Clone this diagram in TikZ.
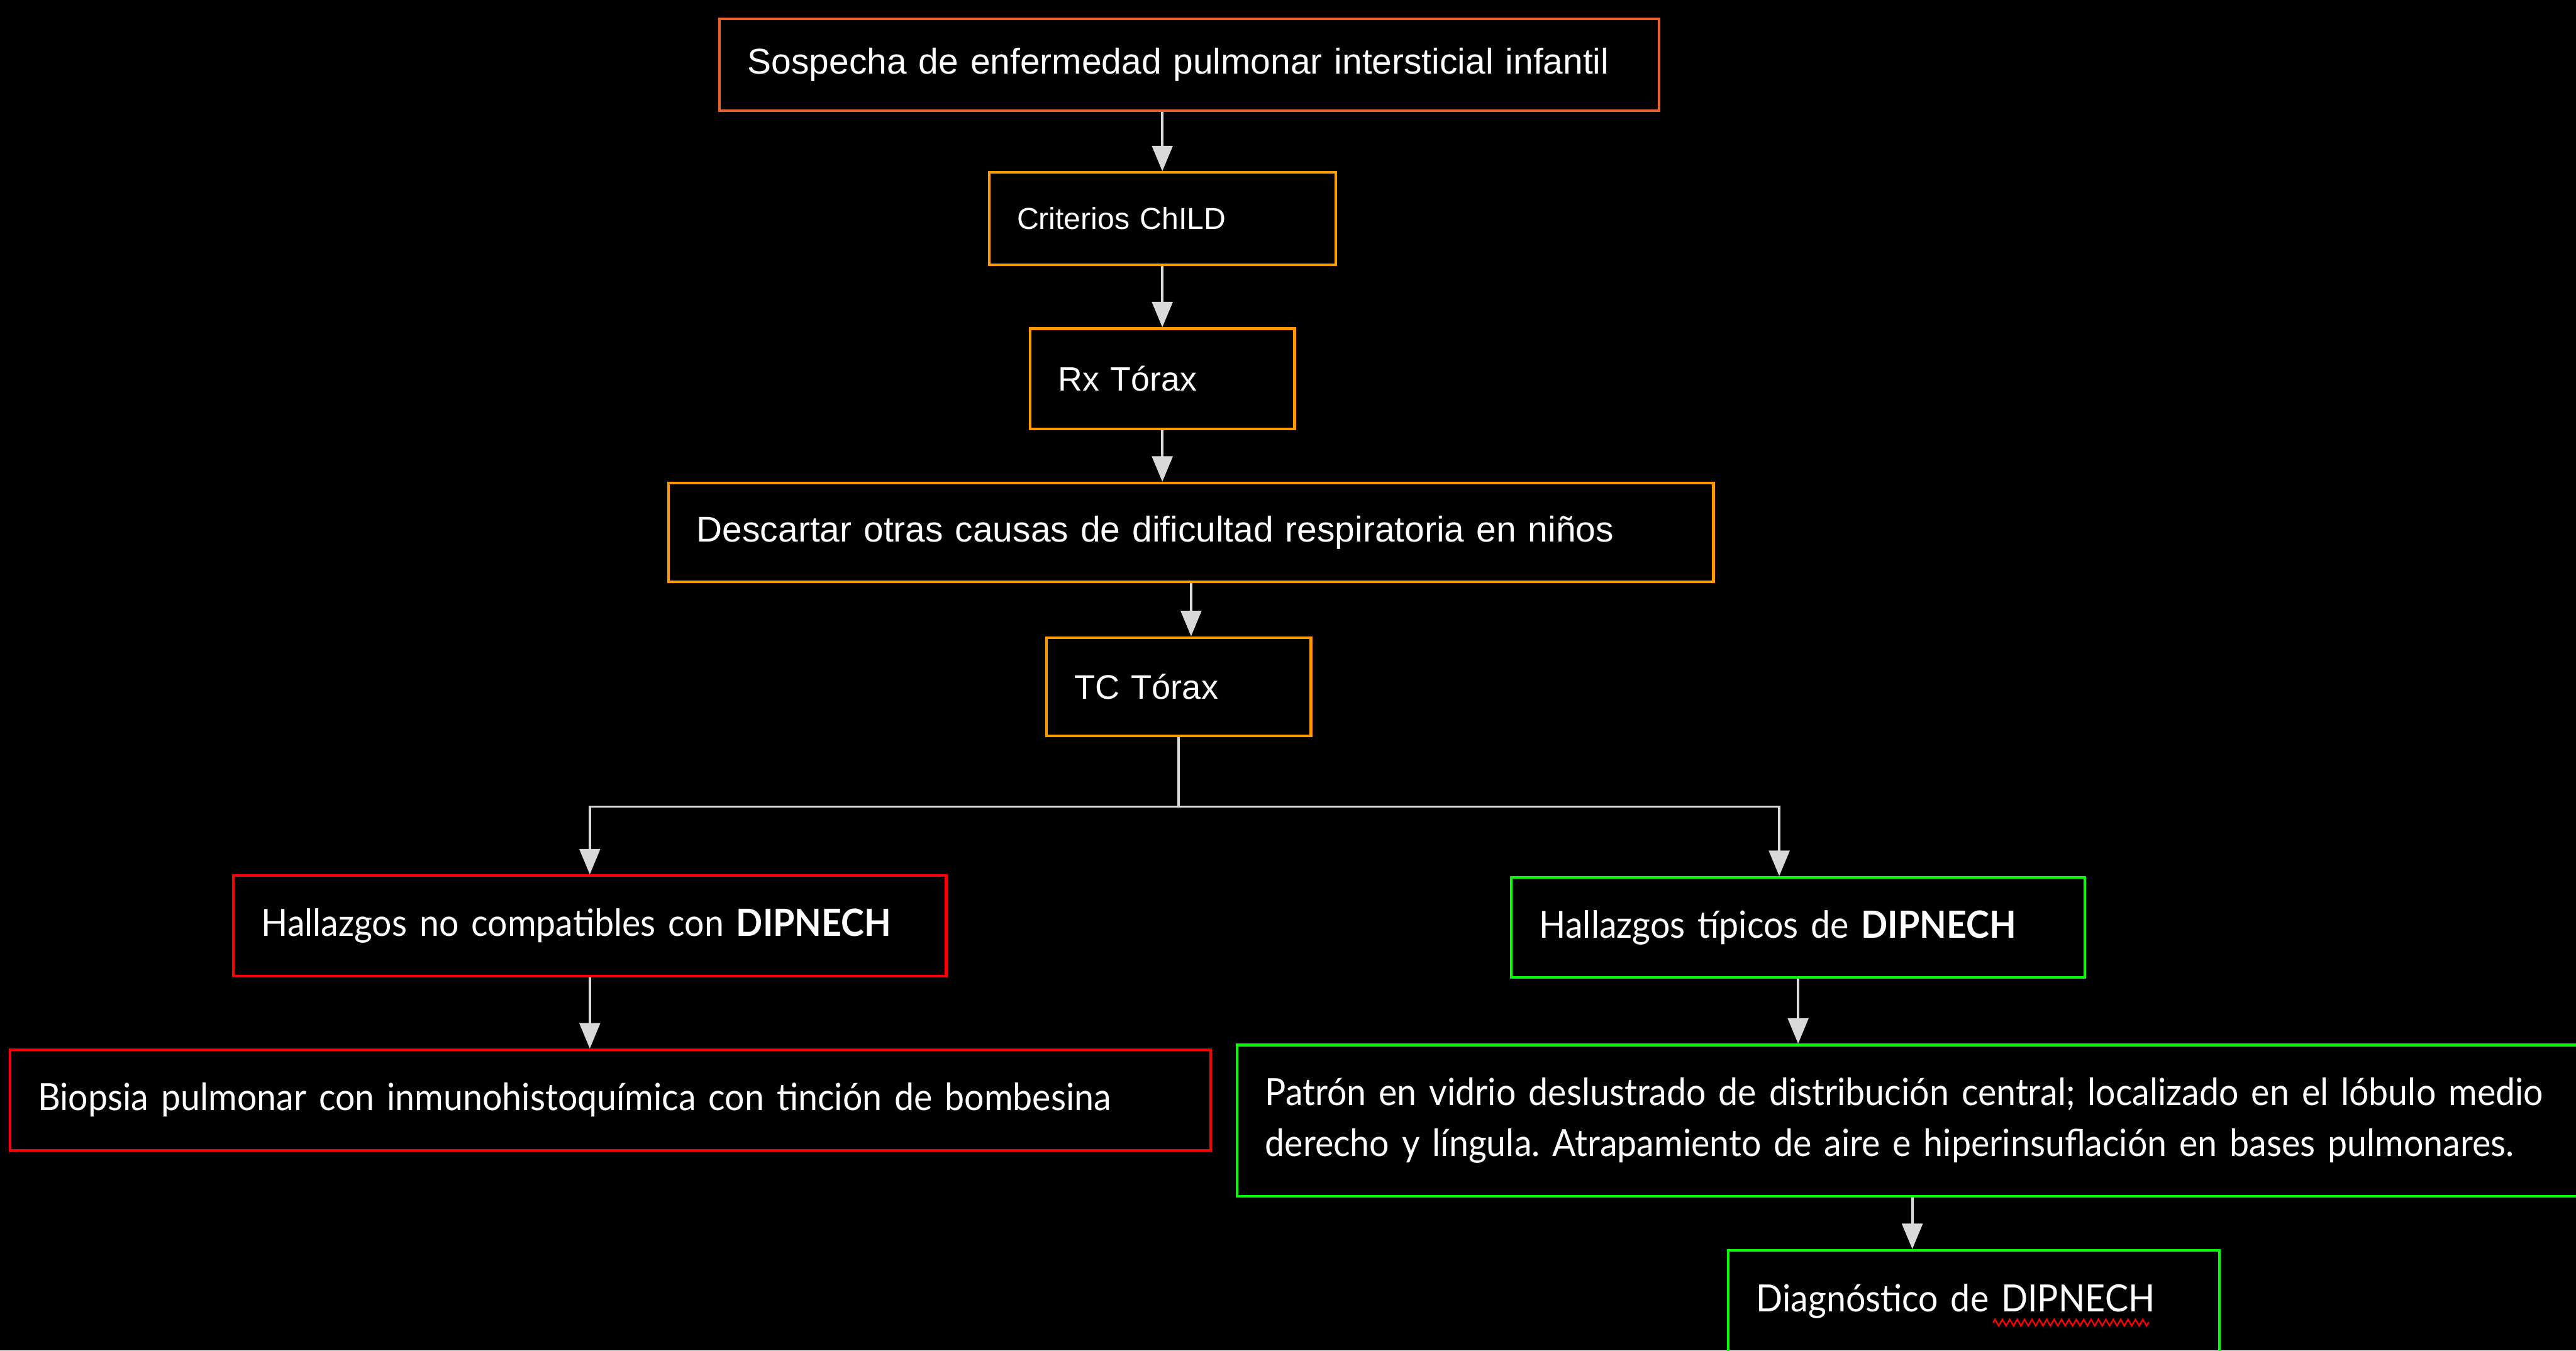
\documentclass[tikz,border=0pt]{standalone}
\usepackage{fontspec}
\usepackage{xcolor}
\newfontfamily\arialf{Liberation Sans}
\newfontfamily\latof{Lato}[FakeStretch=0.93, WordSpace=0.8]
\usetikzlibrary{positioning,calc,arrows.meta,decorations.pathmorphing}
\definecolor{boxcoral}{HTML}{E8622A}
\definecolor{boxorange}{HTML}{FF9900}
\definecolor{boxred}{HTML}{FF0000}
\definecolor{boxgreen}{HTML}{00FF00}
\definecolor{arrowgray}{HTML}{D9D9D9}

\begin{document}
\hyphenpenalty=10000
\exhyphenpenalty=10000
\frenchspacing
\begin{tikzpicture}[
    x=0.02cm, y=-0.02cm,
    box/.style={rectangle, draw, line width=0.9pt, text=white, align=left, inner xsep=0.34cm, inner ysep=0pt},
    upper/.style={box, draw=boxorange, font=\arialf\fontsize{12.4}{15}\selectfont},
    lower/.style={box, font=\latof\fontsize{13}{17.6}\selectfont},
    line/.style={draw=arrowgray, line width=0.8pt},
    arrow/.style={line, -{Triangle[length=0.31cm, width=0.25cm]}},
    squiggle/.style={draw=boxred, line width=0.5pt, decorate, decoration={zigzag, amplitude=0.04cm, segment length=0.09cm}}
]
\path[use as bounding box, fill=black] (0,0) rectangle (1568,822);
\clip (0,0) rectangle (1568,822);

% main column
\node[upper, draw=boxcoral, text width=10.76cm, minimum height=1.12cm] (sospecha) at (724,39.5) {Sospecha de enfermedad pulmonar intersticial infantil};
\node[upper, font=\arialf\fontsize{10.5}{13}\selectfont, text width=3.54cm, minimum height=1.12cm] (criterios) at (707.5,133) {Criterios ChILD};
\node[upper, font=\arialf\fontsize{11.7}{14}\selectfont, text width=2.54cm, minimum height=1.22cm] (rx) at (707.5,230.5) {Rx Tórax};
\node[upper, text width=12.04cm, minimum height=1.2cm] (descartar) at (725,324) {Descartar otras causas de dificultad respiratoria en niños};
\node[upper, font=\arialf\fontsize{11.8}{14}\selectfont, text width=2.54cm, minimum height=1.2cm] (tc) at (717.5,418) {TC Tórax};
\coordinate (split) at (717.5,491);

% branches
\node[lower, draw=boxred, text width=8.0cm, minimum height=1.22cm] (nocomp) at (359,563.5) {Hallazgos no compatibles con \textbf{DIPNECH}};
\node[lower, draw=boxgreen, text width=6.3cm, minimum height=1.22cm] (tipicos) at (1094.5,564.5) {Hallazgos típicos de \textbf{DIPNECH}};
\node[lower, draw=boxred, text width=13.94cm, minimum height=1.22cm] (biopsia) at (371.5,669.5) {Biopsia pulmonar con inmunohistoquímica con tinción de bombesina};
\node[lower, draw=boxgreen, text width=15.76cm, minimum height=1.84cm] (patron) at (1164,682) {Patrón en vidrio deslustrado de distribución central; localizado en el lóbulo medio\\derecho y língula. Atrapamiento de aire e hiperinsuflación en bases pulmonares.};
\node[lower, draw=boxgreen, text width=5.3cm, minimum height=1.24cm] (diag) at (1201.5,792) {Diagnóstico de DIPNECH};
\draw[squiggle] ([xshift=3.24cm, yshift=-0.26cm]diag.west) -- ++(95,0);

\draw[arrow] (sospecha.south -| criterios.north) -- (criterios.north);
\draw[arrow] (criterios) -- (rx);
\draw[arrow] (rx.south) -- (rx.south |- descartar.north);
\draw[arrow] (descartar.south) -- (descartar.south |- tc.north);
\draw[line] (tc.south) -- (split);
\draw[arrow] (split) -| (nocomp.north);
\draw[arrow] (split) -| ([xshift=-0.23cm]tipicos.north);
\draw[arrow] (nocomp.south) -- (nocomp.south |- biopsia.north);
\draw[arrow] (tipicos.south) -- (tipicos.south |- patron.north);
\draw[arrow] (patron.south) -- (patron.south |- diag.north);

\end{tikzpicture}
\end{document}
